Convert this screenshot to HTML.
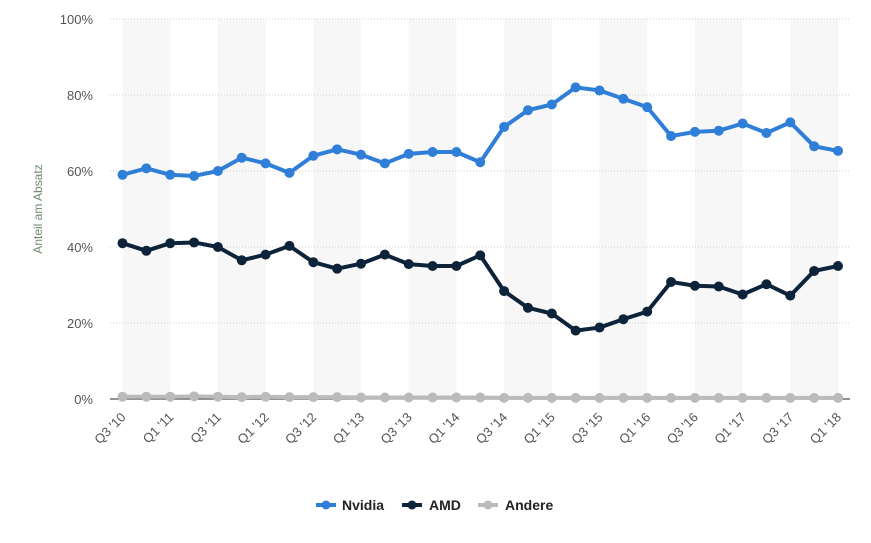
<!DOCTYPE html>
<html><head><meta charset="utf-8"><style>
body{margin:0;background:#fff;font-family:"Liberation Sans",sans-serif}
svg{display:block}
</style></head><body>
<svg id="c" width="871" height="543">
<g id="bands"></g><g id="grid"></g><g id="series"></g><g id="xl"></g>
<text transform="translate(42,209) rotate(-90)" text-anchor="middle" font-size="12" fill="#6d8a6d">Anteil am Absatz</text>
<g font-size="14" font-weight="bold" fill="#222">
<g><line x1="316" y1="505" x2="336" y2="505" stroke="#2f7ed8" stroke-width="4"/><circle cx="326" cy="505" r="4.5" fill="#2f7ed8"/><text x="342" y="510">Nvidia</text></g>
<g><line x1="402" y1="505" x2="422" y2="505" stroke="#0d233a" stroke-width="4"/><circle cx="412" cy="505" r="4.5" fill="#0d233a"/><text x="429" y="510">AMD</text></g>
<g><line x1="478" y1="505" x2="498" y2="505" stroke="#bbb" stroke-width="4"/><circle cx="488" cy="505" r="4.5" fill="#bbb"/><text x="505" y="510">Andere</text></g>
</g>
</svg>
<script>
const categories=["Q3 '10","Q4 '10","Q1 '11","Q2 '11","Q3 '11","Q4 '11","Q1 '12","Q2 '12","Q3 '12","Q4 '12","Q1 '13","Q2 '13","Q3 '13","Q4 '13","Q1 '14","Q2 '14","Q3 '14","Q4 '14","Q1 '15","Q2 '15","Q3 '15","Q4 '15","Q1 '16","Q2 '16","Q3 '16","Q4 '16","Q1 '17","Q2 '17","Q3 '17","Q4 '17","Q1 '18"];
const nvidia=[59,60.7,59,58.7,60,63.5,62,59.5,64,65.7,64.3,62,64.5,65,65,62.3,71.6,76,77.5,82,81.2,79,76.8,69.2,70.3,70.6,72.5,70,72.8,66.5,65.3];
const amd=[41,39,41,41.2,40,36.5,38,40.3,36,34.3,35.6,38,35.5,35,35,37.8,28.4,24,22.5,18,18.8,21,23,30.8,29.8,29.6,27.5,30.2,27.2,33.7,35];
const andere=[0.6,0.6,0.6,0.7,0.6,0.5,0.6,0.5,0.5,0.5,0.4,0.4,0.4,0.4,0.4,0.4,0.3,0.3,0.3,0.3,0.3,0.3,0.3,0.3,0.3,0.3,0.3,0.3,0.3,0.3,0.3];
const yTicks=[0,20,40,60,80,100];
const NS="http://www.w3.org/2000/svg";
const X0=122.5,DX=23.85,Y0=399,YH=380;
const x=i=>X0+i*DX, y=v=>Y0-v/100*YH;
function mk(t,a,p){const e=document.createElementNS(NS,t);for(const k in a)e.setAttribute(k,a[k]);p.appendChild(e);return e;}
const bands=document.getElementById('bands');
for(let i=0;i<categories.length-1;i+=4){
 const r=mk('rect',{x:x(i),y:19,width:Math.min(2*DX,x(categories.length-1)-x(i)),height:Y0-19,fill:'#f7f7f7'},bands);
 
 
}
const grid=document.getElementById('grid');
yTicks.forEach(t=>{
 const l=mk('line',{x1:110,x2:850,y1:y(t),y2:y(t),stroke:t===0?'#555':'#ccc','stroke-width':t===0?1.2:1,'stroke-dasharray':t===0?'':'1,2'},grid);
 
 
 const tx=mk('text',{x:93,y:y(t)+5,'text-anchor':'end','font-size':13,fill:'#555'},grid);
 tx.textContent=t+'%';
 
 
});
const xl=document.getElementById('xl');
categories.forEach((c,i)=>{
 if(i%2)return;
 const t=mk('text',{transform:`translate(${x(i)+4},${Y0+19}) rotate(-45)`,'text-anchor':'end','font-size':13,fill:'#555'},xl);
 t.textContent=c;
 
 
});
const S=document.getElementById('series');
[[andere,'#bbb','andere'],[amd,'#0d233a','amd'],[nvidia,'#2f7ed8','nvidia']].forEach(([d,col,n])=>{
 const g=mk('g',{},S);
 
 
 const p=mk('polyline',{points:d.map((v,i)=>x(i)+','+y(v)).join(' '),fill:'none',stroke:col,'stroke-width':4,'stroke-linejoin':'round'},g);
 
 
 d.forEach((v,i)=>{
  const c=mk('circle',{cx:x(i),cy:y(v),r:5,fill:col},g);
  
  
 });
});
</script>
</body></html>
